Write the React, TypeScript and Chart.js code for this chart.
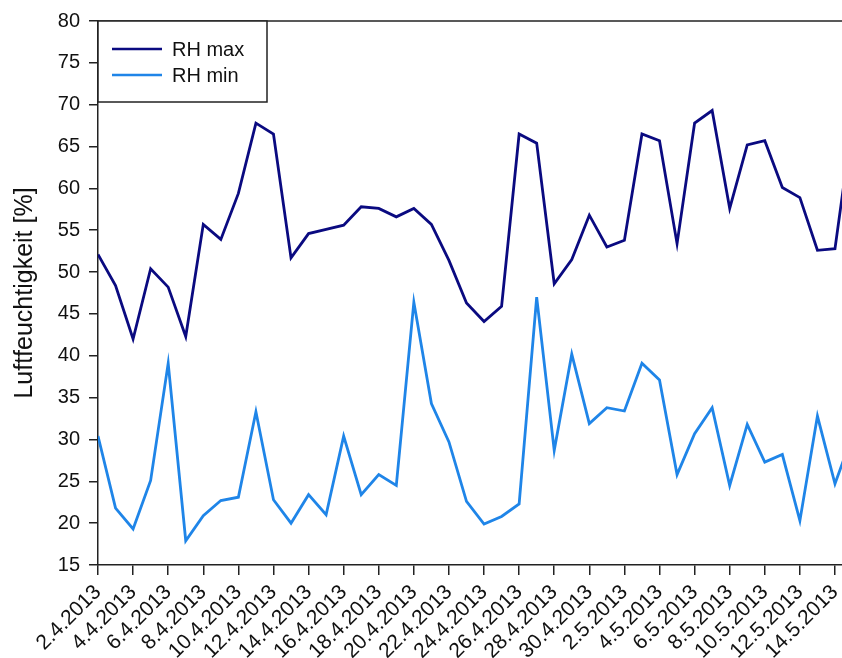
import React, { useEffect, useRef } from "react";
import { Chart, registerables } from "chart.js";

Chart.register(...registerables);

const dates: string[] = [
  "2.4.2013", "3.4.2013", "4.4.2013", "5.4.2013", "6.4.2013", "7.4.2013", "8.4.2013", "9.4.2013",
  "10.4.2013", "11.4.2013", "12.4.2013", "13.4.2013", "14.4.2013", "15.4.2013", "16.4.2013", "17.4.2013",
  "18.4.2013", "19.4.2013", "20.4.2013", "21.4.2013", "22.4.2013", "23.4.2013", "24.4.2013", "25.4.2013",
  "26.4.2013", "27.4.2013", "28.4.2013", "29.4.2013", "30.4.2013", "1.5.2013", "2.5.2013", "3.5.2013",
  "4.5.2013", "5.5.2013", "6.5.2013", "7.5.2013", "8.5.2013", "9.5.2013", "10.5.2013", "11.5.2013",
  "12.5.2013", "13.5.2013", "14.5.2013", "15.5.2013",
];

const rhMax: number[] = [
  52.1, 48.4, 42.0, 50.4, 48.2, 42.3, 55.7, 53.9, 59.4, 67.8,
  66.5, 51.7, 54.6, 55.1, 55.6, 57.8, 57.6, 56.6, 57.6, 55.7,
  51.4, 46.3, 44.1, 45.9, 66.5, 65.4, 48.6, 51.5, 56.8, 53.0,
  53.8, 66.5, 65.7, 53.4, 67.8, 69.3, 57.6, 65.2, 65.7, 60.1,
  58.9, 52.6, 52.8, 68.0,
];

const rhMin: number[] = [
  30.4, 21.8, 19.3, 25.1, 39.1, 17.9, 20.9, 22.7, 23.1, 33.3,
  22.8, 20.0, 23.4, 21.0, 30.4, 23.4, 25.8, 24.5, 46.4, 34.3,
  29.7, 22.6, 19.9, 20.8, 22.3, 47.0, 28.7, 40.2, 31.9, 33.8,
  33.4, 39.1, 37.1, 25.8, 30.7, 33.8, 24.5, 31.8, 27.3, 28.2,
  20.3, 32.8, 24.7, 30.5,
];

const seriesNames: string[] = ["RH max", "RH min"];
const yTitle = "Luftfeuchtigkeit [%]";
const yMin = 15;
const yMax = 80;
const yStep = 5;
// visible window of the day axis (the original picture is cut off on the right)
const xViewMax = 42.4;
const xTickIdx: number[] = dates.map((_, i) => i).filter((i) => i % 2 === 0);

const FONT = "'Liberation Sans', Arial, Helvetica, sans-serif";
const AXIS = "#222";

const frameLegendPlugin = {
  id: "frameLegend",
  afterDraw(chart: any) {
    const { ctx, chartArea } = chart;
    ctx.save();
    // top frame line
    ctx.strokeStyle = AXIS;
    ctx.lineWidth = 1.5;
    ctx.beginPath();
    ctx.moveTo(chartArea.left, chartArea.top);
    ctx.lineTo(chartArea.right, chartArea.top);
    ctx.stroke();
    // legend box
    const bx = chartArea.left;
    const by = chartArea.top;
    const bw = 169;
    const bh = 81;
    ctx.fillStyle = "#fff";
    ctx.fillRect(bx, by, bw, bh);
    ctx.strokeRect(bx, by, bw, bh);
    ctx.font = `20px ${FONT}`;
    ctx.textBaseline = "middle";
    ctx.textAlign = "left";
    chart.data.datasets.forEach((ds: any, i: number) => {
      const y = by + 28 + i * 26;
      ctx.strokeStyle = ds.borderColor;
      ctx.lineWidth = 2.5;
      ctx.beginPath();
      ctx.moveTo(bx + 14, y);
      ctx.lineTo(bx + 64, y);
      ctx.stroke();
      ctx.fillStyle = "#111";
      ctx.fillText(ds.label, bx + 74, y + 1);
    });
    ctx.restore();
  },
};

export default function App() {
  const ref = useRef<HTMLCanvasElement | null>(null);

  useEffect(() => {
    if (!ref.current) return;
    const chart = new Chart(ref.current, {
      type: "line",
      data: {
        datasets: [
          {
            label: seriesNames[0],
            data: rhMax.map((v, i) => ({ x: i, y: v })),
            borderColor: "#0a0a80",
            backgroundColor: "#0a0a80",
            borderWidth: 2.8,
            pointRadius: 0,
            tension: 0,
          },
          {
            label: seriesNames[1],
            data: rhMin.map((v, i) => ({ x: i, y: v })),
            borderColor: "#1f85e8",
            backgroundColor: "#1f85e8",
            borderWidth: 2.8,
            pointRadius: 0,
            tension: 0,
          },
        ],
      },
      options: {
        animation: false,
        responsive: false,
        maintainAspectRatio: false,
        layout: { padding: { top: 20, left: 0, right: 0, bottom: 0 } },
        plugins: {
          legend: { display: false },
          tooltip: { enabled: false },
        },
        scales: {
          x: {
            type: "linear",
            min: 0,
            max: xViewMax,
            afterBuildTicks: (scale: any) => {
              scale.ticks = xTickIdx.map((v) => ({ value: v }));
            },
            afterFit: (scale: any) => {
              scale.paddingLeft = 0;
              scale.paddingRight = 0;
              scale.height = 93;
            },
            grid: {
              display: true,
              drawOnChartArea: false,
              drawTicks: true,
              tickLength: 10,
              color: AXIS,
              lineWidth: 1.5,
            },
            border: { display: true, color: AXIS, width: 1.5 },
            ticks: {
              autoSkip: false,
              minRotation: 45,
              maxRotation: 45,
              padding: 5,
              color: "#111",
              font: { family: FONT, size: 21 },
              callback: (v: any) => dates[Number(v)] ?? "",
            },
          },
          y: {
            type: "linear",
            min: yMin,
            max: yMax,
            afterFit: (scale: any) => {
              scale.width = 98;
            },
            grid: {
              display: true,
              drawOnChartArea: false,
              drawTicks: true,
              tickLength: 9,
              color: AXIS,
              lineWidth: 1.5,
            },
            border: { display: true, color: AXIS, width: 1.5 },
            ticks: {
              stepSize: yStep,
              padding: 9,
              color: "#111",
              font: { family: FONT, size: 20 },
            },
            title: {
              display: true,
              text: yTitle,
              color: "#111",
              font: { family: FONT, size: 25 },
              padding: { top: 10, bottom: 0 },
            },
          },
        },
      },
      plugins: [frameLegendPlugin],
    } as any);
    return () => chart.destroy();
  }, []);

  return (
    <div style={{ position: "absolute", left: 0, top: 0, width: 842, height: 658, background: "#fff" }}>
      <canvas ref={ref} width={842} height={658} style={{ display: "block", width: 842, height: 658 }} />
    </div>
  );
}
